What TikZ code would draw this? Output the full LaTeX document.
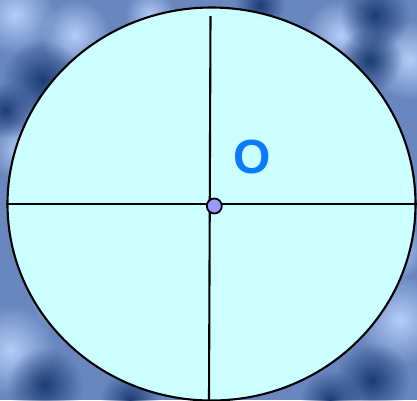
\documentclass[tikz,border=0pt]{standalone}
\usepackage{fontspec}
\setmainfont{Liberation Sans}
\usetikzlibrary{fadings,shapes.geometric}
\definecolor{bgbase}{HTML}{6A86BE}
\definecolor{bglight}{HTML}{B4CCF8}
\definecolor{bgdark}{HTML}{1E3C74}
\definecolor{disc}{HTML}{CCFFFF}
\definecolor{dotfill}{HTML}{9999FF}
\definecolor{labelblue}{HTML}{0A7BFF}
\tikzfading[name=softglow, inner color=transparent!0, outer color=transparent!100]
\tikzset{
  lightblob/.style={fill=bglight, path fading=softglow},
  darkblob/.style={fill=bgdark, path fading=softglow},
  axisline/.style={draw=black, line width=2.1pt},
}
\begin{document}
\begin{tikzpicture}[x=1pt,y=-1pt]
\useasboundingbox (0,0) rectangle (417,400);
\fill[bgbase] (0,0) rectangle (417,400);
% background texture
\foreach \x/\y/\r in {15/15/40, 75/35/35, 20/150/30, 10/350/45, 60/300/30, 340/35/35, 410/60/40, 400/320/45, 395/250/30, 150/15/25}
  \fill[lightblob] (\x,\y) circle (\r);
\foreach \x/\y/\r in {42/80/40, 5/110/28, 375/15/35, 370/60/32, 45/385/38, 130/400/30, 372/380/38, 330/400/30, 260/5/25}
  \fill[darkblob] (\x,\y) circle (\r);
% disc
\node[draw=black, line width=2.1pt, fill=disc, ellipse, inner sep=0pt, minimum width=408pt, minimum height=393pt] (disc) at (211.5,204) {};
\coordinate (vt) at (210.5,16);
\coordinate (vb) at (209,400);
\draw[axisline] (vt) -- (vb);
\draw[axisline] (disc.west) -- (disc.east);
\node[circle, draw=black, line width=1.8pt, fill=dotfill, minimum size=15pt, inner sep=0pt] (O) at (214.3,206) {};
\node[text=labelblue, font=\fontsize{48}{48}\selectfont\bfseries, inner sep=0pt] (lab) at (252,157) {O};
\end{tikzpicture}
\end{document}
